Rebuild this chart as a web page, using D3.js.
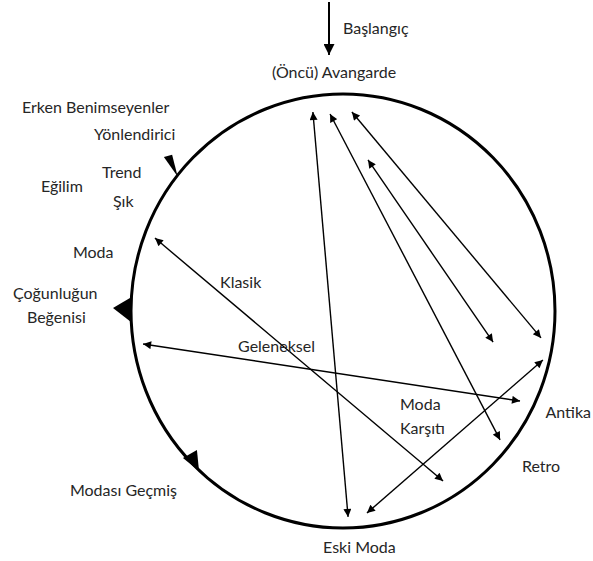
<!doctype html>
<html>
  <head>
    <meta charset="utf-8">
    <script src="https://cdnjs.cloudflare.com/ajax/libs/d3/7.8.5/d3.min.js"></script>
    <style>
      body { margin: 0; background: #fff; }
      ellipse.cycle {
        fill: none;
        stroke: #000;
        stroke-width: 3;
      }
      line.link {
        stroke: #000;
        stroke-width: 1.4;
      }
      line.start {
        stroke: #000;
        stroke-width: 2;
      }
      path.flag {
        fill: #000;
      }
      text.label {
        font-family: Lato, "Open Sans", sans-serif;
        font-size: 16px;
        fill: #262626;
      }
    </style>
  </head>
  <body>
    <svg id="viz" width="593" height="561"></svg>
    <script>
      // everything below is in circle units: (0,0) centre, radius 1
      var linkFrom = [[-0.142, -0.917], [-0.061, -0.908], [0.118, -0.696], [0.042, -0.917],
                      [0.943, 0.226], [-0.887, -0.336], [-0.943, 0.152]];
      var linkTo   = [[0.024, 0.949], [0.741, 0.594], [0.708, 0.143], [0.934, 0.124],
                      [0.113, 0.931], [0.472, 0.783], [0.835, 0.415]];

      var startArrow = [[-0.066, -1.424], [-0.066, -1.18]];

      var flags = [
        [[-0.845, -0.71], [-0.806, -0.72], [-0.78, -0.62]],
        [[-1.085, -0.014], [-1.005, -0.06], [-1.0, 0.051]],
        [[-0.755, 0.677], [-0.689, 0.641], [-0.679, 0.737]]
      ];

      var labelText = ["Başlangıç", "(Öncü) Avangarde", "Erken Benimseyenler", "Yönlendirici",
                       "Trend", "Eğilim", "Şık", "Moda", "Klasik", "Çoğunluğun", "Beğenisi",
                       "Geleneksel", "Moda", "Karşıtı", "Antika", "Retro", "Eski Moda", "Modası Geçmiş"];
      var labelAt = [[0, -1.276], [-0.335, -1.074], [-1.514, -0.912], [-1.175, -0.788],
                     [-1.137, -0.613], [-1.425, -0.548], [-1.085, -0.479], [-1.274, -0.244],
                     [-0.58, -0.106], [-1.557, -0.055], [-1.491, 0.055], [-0.495, 0.19],
                     [0.269, 0.456], [0.269, 0.567], [0.955, 0.493], [0.844, 0.742],
                     [-0.094, 1.115], [-1.288, 0.853]];

      var svg = d3.select("#viz");

      var x = d3.scaleLinear().domain([-1, 1]).range([131, 555]);
      var y = d3.scaleLinear().domain([-1, 1]).range([94, 528]);

      var defs = svg.append("defs");
      function head(id, w, l) {
        defs.append("marker")
          .attr("id", id)
          .attr("markerUnits", "userSpaceOnUse")
          .attr("viewBox", "0 -5 10 10")
          .attr("refX", 10)
          .attr("refY", 0)
          .attr("markerWidth", l)
          .attr("markerHeight", w)
          .attr("orient", "auto-start-reverse")
          .append("path")
            .attr("d", "M0,-5L10,0L0,5Z")
            .attr("fill", "#000");
      }
      head("tip", 8, 10);
      head("bigtip", 11, 13);

      svg.append("ellipse")
        .attr("class", "cycle")
        .attr("cx", x(0))
        .attr("cy", y(0))
        .attr("rx", x(1) - x(0))
        .attr("ry", y(1) - y(0));

      svg.selectAll("path.flag").data(flags)
        .enter()
        .append("path")
          .attr("class", "flag")
          .attr("d", d => d3.line().x(p => x(p[0])).y(p => y(p[1]))(d) + "Z");

      svg.selectAll("line.link").data(linkFrom)
        .enter()
        .append("line")
          .attr("class", "link")
          .attr("x1", d => x(d[0]))
          .attr("y1", d => y(d[1]))
          .attr("x2", (d, i) => x(linkTo[i][0]))
          .attr("y2", (d, i) => y(linkTo[i][1]))
          .attr("marker-start", "url(#tip)")
          .attr("marker-end", "url(#tip)");

      svg.append("line")
        .attr("class", "start")
        .attr("x1", x(startArrow[0][0]))
        .attr("y1", y(startArrow[0][1]))
        .attr("x2", x(startArrow[1][0]))
        .attr("y2", y(startArrow[1][1]))
        .attr("marker-end", "url(#bigtip)");

      svg.selectAll("text.label").data(labelText)
        .enter()
        .append("text")
          .attr("class", "label")
          .attr("x", (d, i) => x(labelAt[i][0]))
          .attr("y", (d, i) => y(labelAt[i][1]))
          .text(d => d);
    </script>
  </body>
</html>
